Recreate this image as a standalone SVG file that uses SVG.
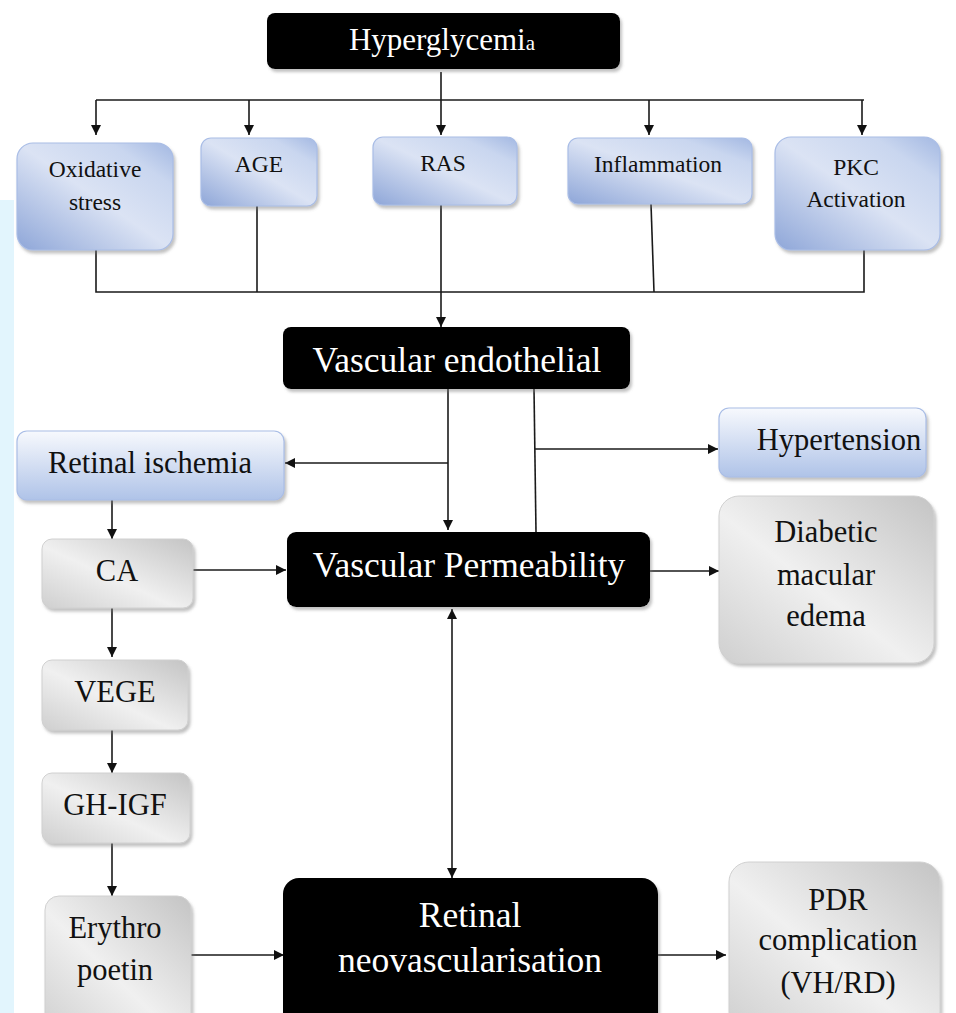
<svg xmlns="http://www.w3.org/2000/svg" width="956" height="1013" viewBox="0 0 956 1013">
<style>
.ln{fill:none;stroke:#1a1a1a;stroke-width:1.6}
.arr{marker-end:url(#ah)}
.blk{fill:#000}
.blue{fill:url(#gBlue);stroke:#a9bde6;stroke-width:1.2}
.blueV{fill:url(#gBlueV);stroke:#a9bde6;stroke-width:1.2}
.gray{fill:url(#gGray);stroke:#d0d0d0;stroke-width:1}
.t{font-family:"Liberation Serif","Times New Roman",serif;text-anchor:middle;fill:#111}
.w{fill:#fff}
.s{font-size:23.5px}
.m{font-size:30.5px}
.l{font-size:35.5px}
</style>
<defs>
<marker id="ah" viewBox="0 0 10 10" refX="10" refY="5" markerWidth="11" markerHeight="10" markerUnits="userSpaceOnUse" orient="auto-start-reverse">
<path d="M0,0 L10,5 L0,10 z" fill="#111"/>
</marker>
<linearGradient id="gBlue" x1="0" y1="1" x2="1" y2="0">
<stop offset="0" stop-color="#8ea6d8"/>
<stop offset="0.5" stop-color="#dbe3f4"/>
<stop offset="0.8" stop-color="#c9d6ef"/>
<stop offset="1" stop-color="#a3b8e2"/>
</linearGradient>
<linearGradient id="gBlueV" x1="0" y1="0" x2="0" y2="1">
<stop offset="0" stop-color="#f7f9fd"/>
<stop offset="1" stop-color="#afc3e8"/>
</linearGradient>
<linearGradient id="gGray" x1="0" y1="1" x2="1" y2="0">
<stop offset="0" stop-color="#cfcfcf"/>
<stop offset="0.45" stop-color="#f0f0f0"/>
<stop offset="1" stop-color="#c4c4c4"/>
</linearGradient>
<filter id="sh" x="-10%" y="-10%" width="125%" height="130%">
<feDropShadow dx="2" dy="3" stdDeviation="1.5" flood-color="#777" flood-opacity="0.45"/>
</filter>
</defs>
<rect width="956" height="1013" fill="#fff"/>
<rect x="0" y="200" width="14" height="813" fill="#e2f5fd"/>

<g id="connectors">
<path class="ln" d="M441,72 V100"/>
<path class="ln" d="M96,100 H864"/>
<path class="ln arr" d="M96,100 V135"/>
<path class="ln arr" d="M249,100 V135"/>
<path class="ln arr" d="M441,100 V135"/>
<path class="ln arr" d="M649,100 V135"/>
<path class="ln arr" d="M862,100 V135"/>
<path class="ln" d="M96,250 V292 H864 V250"/>
<path class="ln" d="M257,206 V292"/>
<path class="ln" d="M651,204 L654,292"/>
<path class="ln arr" d="M441,205 V327"/>
<path class="ln arr" d="M448,389 V530"/>
<path class="ln arr" d="M448,463 H285"/>
<path class="ln" d="M534,389 L536,532"/>
<path class="ln arr" d="M535,449 H718"/>
<path class="ln arr" d="M112,500 V539"/>
<path class="ln arr" d="M193,570 H286"/>
<path class="ln arr" d="M650,571 H719"/>
<path class="ln arr" d="M112,608 V657"/>
<path class="ln arr" d="M112,730 V773"/>
<path class="ln arr" d="M112,843 V896"/>
<path class="ln arr" d="M452,878 V609" style="marker-start:url(#ah)"/>
<path class="ln arr" d="M191,955 H284"/>
<path class="ln arr" d="M658,955 H726"/>
</g>

<g id="hyperglycemia">
<rect x="267" y="13" width="353" height="56" rx="8" class="blk" filter="url(#sh)"/>
<text x="442" y="50" class="t w" style="font-size:31px">Hyperglycemi<tspan style="font-size:21px">a</tspan></text>
</g>

<g id="oxidative">
<rect x="17" y="143" width="156" height="107" rx="16" class="blue" filter="url(#sh)"/>
<text x="95" y="177" class="t s">Oxidative</text>
<text x="95" y="210" class="t s">stress</text>
</g>
<g id="age">
<rect x="201" y="138" width="116" height="68" rx="10" class="blue" filter="url(#sh)"/>
<text x="259" y="172" class="t s">AGE</text>
</g>
<g id="ras">
<rect x="373" y="137" width="144" height="68" rx="10" class="blue" filter="url(#sh)"/>
<text x="443" y="171" class="t s">RAS</text>
</g>
<g id="inflammation">
<rect x="568" y="138" width="184" height="66" rx="10" class="blue" filter="url(#sh)"/>
<text x="658" y="172" class="t s">Inflammation</text>
</g>
<g id="pkc">
<rect x="775" y="137" width="165" height="113" rx="16" class="blue" filter="url(#sh)"/>
<text x="856" y="175" class="t s">PKC</text>
<text x="856" y="207" class="t s">Activation</text>
</g>

<g id="vascular-endothelial">
<rect x="283" y="327" width="347" height="62" rx="8" class="blk" filter="url(#sh)"/>
<text x="457" y="372" class="t w l">Vascular endothelial</text>
</g>

<g id="retinal-ischemia">
<rect x="17" y="431" width="267" height="69" rx="10" class="blueV" filter="url(#sh)"/>
<text x="150" y="473" class="t m">Retinal ischemia</text>
</g>

<g id="hypertension">
<rect x="719" y="408" width="207" height="69" rx="10" class="blueV" filter="url(#sh)"/>
<text x="839" y="450" class="t m">Hypertension</text>
</g>

<g id="vascular-permeability">
<rect x="287" y="532" width="363" height="75" rx="9" class="blk" filter="url(#sh)"/>
<text x="469" y="577" class="t w l">Vascular Permeability</text>
</g>

<g id="dme">
<rect x="719" y="496" width="215" height="167" rx="20" class="gray" filter="url(#sh)"/>
<text x="826" y="542" class="t m">Diabetic</text>
<text x="826" y="585" class="t m">macular</text>
<text x="826" y="626" class="t m">edema</text>
</g>

<g id="ca">
<rect x="42" y="539" width="151" height="69" rx="10" class="gray" filter="url(#sh)"/>
<text x="117" y="581" class="t m">CA</text>
</g>
<g id="vege">
<rect x="42" y="660" width="146" height="70" rx="10" class="gray" filter="url(#sh)"/>
<text x="115" y="702" class="t m">VEGE</text>
</g>
<g id="gh-igf">
<rect x="42" y="773" width="148" height="70" rx="10" class="gray" filter="url(#sh)"/>
<text x="115" y="815" class="t m">GH-IGF</text>
</g>
<g id="erythropoetin">
<rect x="45" y="896" width="146" height="140" rx="14" class="gray" filter="url(#sh)"/>
<text x="115" y="938" class="t m">Erythro</text>
<text x="115" y="980" class="t m">poetin</text>
</g>

<g id="retinal-neovascularisation">
<rect x="283" y="878" width="375" height="160" rx="16" class="blk" filter="url(#sh)"/>
<text x="470" y="927" class="t w l">Retinal</text>
<text x="470" y="972" class="t w l">neovascularisation</text>
</g>

<g id="pdr">
<rect x="729" y="862" width="211" height="170" rx="20" class="gray" filter="url(#sh)"/>
<text x="838" y="910" class="t m">PDR</text>
<text x="838" y="950" class="t m">complication</text>
<text x="838" y="993" class="t m">(VH/RD)</text>
</g>
</svg>
